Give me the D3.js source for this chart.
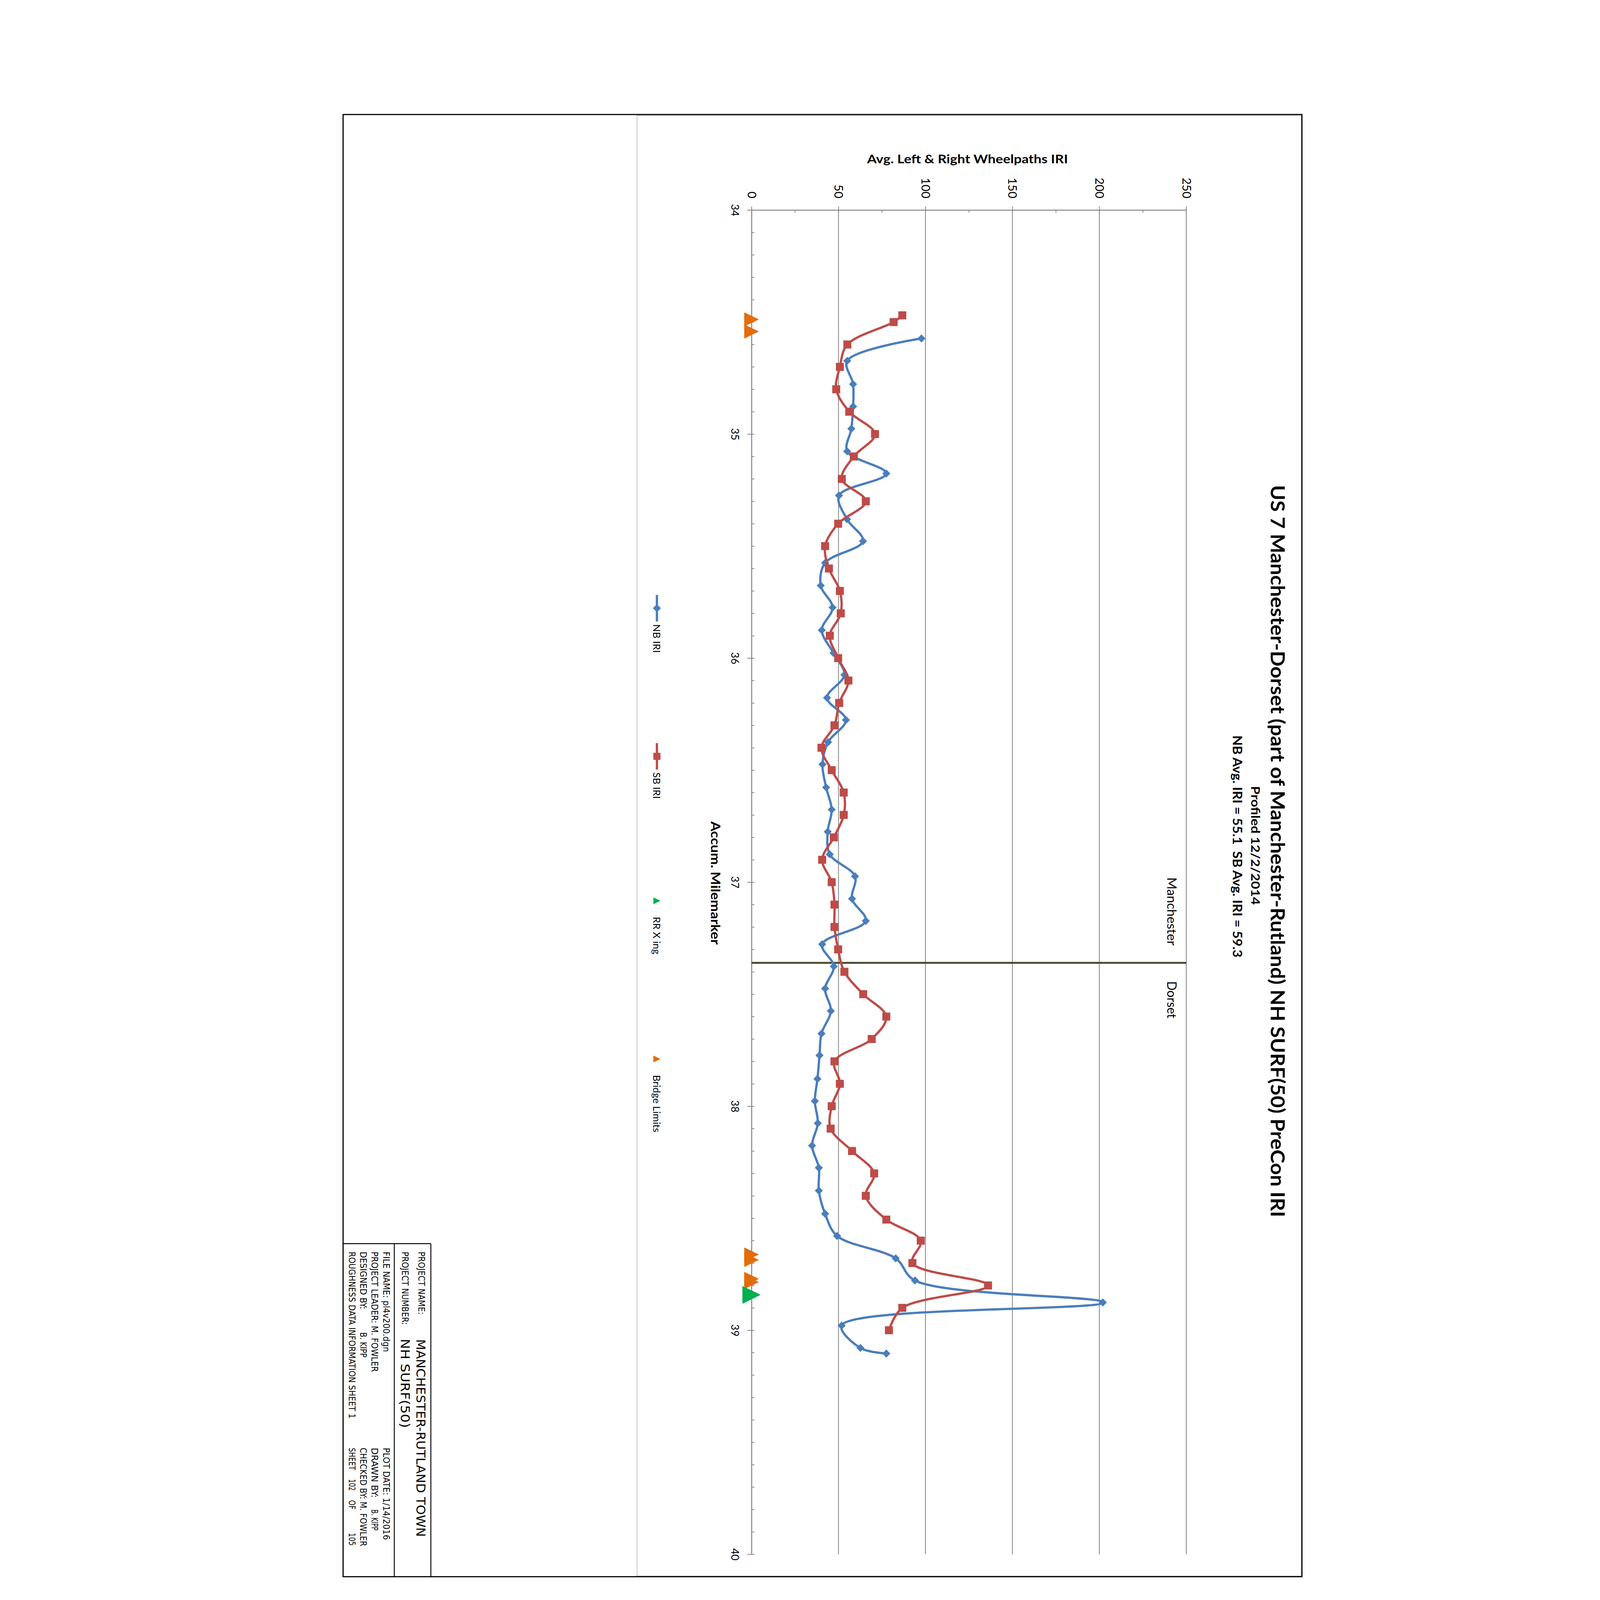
<!DOCTYPE html>
<html>
<head>
<meta charset="utf-8">
<script src="https://cdn.jsdelivr.net/npm/d3@7"></script>
<style>
  html, body { margin: 0; padding: 0; background: #fff; overflow: hidden; }
  #chart { width: 100vw; height: 100vh; }
  svg { display: block; width: 100%; height: 100%; }
</style>
</head>
<body>
<div id="chart"></div>
<script>
// NB / SB average wheelpath IRI (milepost, IRI)
const nbMile = [34.573, 34.673, 34.777, 34.877, 34.976, 35.077, 35.176, 35.274, 35.38, 35.478,
  35.575, 35.676, 35.774, 35.875, 35.977, 36.075, 36.177, 36.276, 36.375, 36.474,
  36.577, 36.676, 36.775, 36.876, 36.974, 37.074, 37.173, 37.277, 37.376, 37.475,
  37.575, 37.676, 37.773, 37.878, 37.977, 38.076, 38.176, 38.275, 38.377, 38.48,
  38.579, 38.679, 38.778, 38.876, 38.979, 39.079, 39.104];
const nbIri = [97.7, 55.0, 58.4, 58.4, 57.4, 55.0, 77.5, 50.3, 54.9, 64.1,
  42.3, 39.8, 46.6, 40.4, 47.1, 53.4, 43.4, 54.3, 44.0, 40.8,
  42.9, 46.1, 43.8, 45.0, 59.5, 57.8, 65.7, 40.6, 47.3, 42.3,
  45.6, 40.2, 39.1, 37.9, 36.4, 38.1, 34.8, 38.7, 38.7, 42.3,
  49.2, 82.9, 94.0, 202.0, 51.8, 62.6, 77.5];

const sbMile = [34.47, 34.50, 34.6, 34.7, 34.8, 34.9, 35.0, 35.1, 35.2, 35.3,
  35.4, 35.5, 35.6, 35.7, 35.8, 35.9, 36.0, 36.1, 36.2, 36.3,
  36.4, 36.5, 36.6, 36.7, 36.8, 36.9, 37.0, 37.1, 37.2, 37.3,
  37.4, 37.5, 37.6, 37.7, 37.8, 37.9, 38.0, 38.1, 38.2, 38.3,
  38.4, 38.506, 38.6, 38.7, 38.8, 38.9, 39.0];
const sbIri = [86.7, 81.7, 55.1, 50.8, 48.7, 56.2, 71.0, 58.8, 51.9, 65.7,
  49.8, 42.3, 44.5, 50.8, 51.3, 45.0, 49.8, 55.7, 50.4, 47.7,
  40.2, 46.1, 53.0, 53.0, 47.3, 40.6, 46.1, 47.7, 47.7, 49.8,
  53.4, 64.2, 77.5, 69.1, 47.7, 50.8, 46.1, 45.5, 57.8, 70.5,
  65.7, 77.5, 97.3, 92.5, 136.0, 86.7, 79.0];

const bridgeMile = [34.488, 34.542, 38.662, 38.686, 38.771, 38.785];
const rrMile = [38.842];

const iriTicks = [0, 50, 100, 150, 200, 250];
const mileTicks = [34, 35, 36, 37, 38, 39, 40];
const townLine = 37.36;
const townNames = ['Manchester', 'Dorset'];
const legendNames = ['NB IRI', 'SB IRI', 'RR X ing', 'Bridge Limits'];

const BLUE = '#4a7ebb', RED = '#be4b48', ORANGE = '#e46c0a', GREEN = '#00b050';
const GRAY = '#868686';
const FONT = "Lato, 'Open Sans', sans-serif";
const TB_FONT = "'DejaVu Sans', sans-serif";

const W = 4600, H = 7000;
const svg = d3.select('#chart').append('svg')
  .attr('viewBox', `0 0 ${W} ${H}`)
  .attr('preserveAspectRatio', 'xMidYMid meet');
svg.append('rect').attr('width', W).attr('height', H).attr('fill', '#fff');

const x = d3.scaleLinear().domain([0, 250]).range([2088, 3990]);
const y = d3.scaleLinear().domain([34, 40]).range([919, 6800]);

// text running top-to-bottom (the sheet is turned on its side)
function vtext(parent, str, bx, yy, size, opts = {}) {
  const t = parent.append('text')
    .attr('transform', `translate(${bx},${yy}) rotate(90)`)
    .attr('text-anchor', opts.anchor || 'start')
    .style('font-family', opts.family || FONT)
    .style('font-size', size + 'px')
    .style('font-weight', opts.bold ? 700 : 400)
    .attr('fill', '#000')
    .text(str);
  if (opts.stretch) t.style('font-stretch', opts.stretch);
  if (opts.len) t.attr('textLength', opts.len).attr('lengthAdjust', 'spacingAndGlyphs');
  return t;
}

// sheet frame
svg.append('rect').attr('x', 1587).attr('y', 505)
  .attr('width', 4493 - 1587).attr('height', 6895 - 505)
  .attr('fill', 'none').attr('stroke', '#a0a0a0').attr('stroke-width', 2);
svg.append('rect').attr('x', 301).attr('y', 501)
  .attr('width', 4496 - 301).attr('height', 6898 - 501)
  .attr('fill', 'none').attr('stroke', '#000').attr('stroke-width', 5);

// titles
const titles = svg.append('g');
vtext(titles, 'US 7 Manchester-Dorset (part of Manchester-Rutland) NH SURF(50) PreCon IRI',
  4360, 2122, 84, { bold: true, len: 3203 });
vtext(titles, 'Profiled 12/2/2014', 4274, 3439, 52, { bold: true, len: 520 });
vtext(titles, 'NB Avg. IRI = 55.1  SB Avg. IRI = 59.3', 4194, 3217, 54, { bold: true, len: 972 })
  .attr('xml:space', 'preserve');

titles.append('text')
  .attr('x', 3033).attr('y', 714)
  .attr('text-anchor', 'middle')
  .style('font-family', FONT).style('font-size', '53px').style('font-weight', 700)
  .attr('textLength', 879).attr('lengthAdjust', 'spacingAndGlyphs')
  .text('Avg. Left & Right Wheelpaths IRI');

vtext(titles, 'Accum. Milemarker', 1910, 3863, 54, { bold: true, anchor: 'middle', len: 539 });

// gridlines
svg.append('g').selectAll('line').data(iriTicks.slice(1)).join('line')
  .attr('x1', d => x(d)).attr('x2', d => x(d))
  .attr('y1', y(34)).attr('y2', y(40))
  .attr('stroke', GRAY).attr('stroke-width', 3.5);

// IRI axis (top)
const topAxis = svg.append('g').attr('transform', `translate(0,${y(34)})`)
  .call(d3.axisTop(x).tickValues(iriTicks).tickSize(15).tickSizeOuter(0));
topAxis.select('.domain').attr('stroke', GRAY).attr('stroke-width', 4.5);
topAxis.selectAll('.tick line').attr('stroke', GRAY).attr('stroke-width', 3.5);
topAxis.selectAll('.tick text')
  .attr('x', 0).attr('y', 0).attr('dy', '0.35em')
  .attr('transform', `translate(0,${868 - y(34)}) rotate(90)`)
  .attr('text-anchor', 'end').attr('fill', '#000')
  .style('font-family', FONT).style('font-size', '52px');

svg.append('g').attr('transform', `translate(0,${y(34)})`)
  .call(d3.axisBottom(x).tickValues(d3.range(0, 251, 25)).tickSize(11).tickFormat(''))
  .call(g => g.select('.domain').remove())
  .selectAll('line').attr('stroke', GRAY).attr('stroke-width', 3.5);

// milepost axis (left)
const leftAxis = svg.append('g').attr('transform', `translate(${x(0)},0)`)
  .call(d3.axisLeft(y).tickValues(mileTicks).tickSize(19).tickSizeOuter(0).tickFormat(d3.format('d')));
leftAxis.select('.domain').attr('stroke', GRAY).attr('stroke-width', 4.5);
leftAxis.selectAll('.tick line').attr('stroke', GRAY).attr('stroke-width', 3.5);
leftAxis.selectAll('.tick text')
  .attr('x', 0).attr('y', 0).attr('dy', 0)
  .attr('transform', `translate(${1999 - x(0)},0) rotate(90)`)
  .attr('text-anchor', 'middle').attr('fill', '#000')
  .style('font-family', FONT).style('font-size', '46px');

svg.append('g').attr('transform', `translate(${x(0)},0)`)
  .call(d3.axisRight(y).tickValues(d3.range(340, 401).map(d => d / 10)).tickSize(12).tickFormat(''))
  .call(g => g.select('.domain').remove())
  .selectAll('line').attr('stroke', GRAY).attr('stroke-width', 3.5);

// town line
svg.append('line')
  .attr('x1', x(0)).attr('x2', x(250))
  .attr('y1', y(townLine)).attr('y2', y(townLine))
  .attr('stroke', '#4a432b').attr('stroke-width', 8);
vtext(svg, townNames[0], 3907, y(townLine) - 76, 56, { anchor: 'end', len: 298 });
vtext(svg, townNames[1], 3907, y(townLine) + 80, 56, { len: 163 });

// series, smoothed like the spreadsheet lines
const line = d3.line()
  .x(d => x(d[1])).y(d => y(d[0]))
  .curve(d3.curveCatmullRom.alpha(0.5));
const nb = d3.zip(nbMile, nbIri);
const sb = d3.zip(sbMile, sbIri);

const diamond = d3.symbol().type(d3.symbolSquare).size(25 * 25);
const square = d3.symbol().type(d3.symbolSquare).size(35 * 35);
const tri = (w, h) => `M${w / 2},0L${-w / 2},${-h / 2}L${-w / 2},${h / 2}Z`;

const plot = svg.append('g');
plot.append('path').datum(nb).attr('d', line)
  .attr('fill', 'none').attr('stroke', BLUE).attr('stroke-width', 10)
  .attr('stroke-linejoin', 'round').attr('stroke-linecap', 'round');
plot.append('g').selectAll('path').data(nb).join('path')
  .attr('d', diamond)
  .attr('transform', d => `translate(${x(d[1])},${y(d[0])}) rotate(45)`)
  .attr('fill', BLUE);

plot.append('path').datum(sb).attr('d', line)
  .attr('fill', 'none').attr('stroke', RED).attr('stroke-width', 10)
  .attr('stroke-linejoin', 'round').attr('stroke-linecap', 'round');
plot.append('g').selectAll('path').data(sb).join('path')
  .attr('d', square)
  .attr('transform', d => `translate(${x(d[1])},${y(d[0])})`)
  .attr('fill', RED);

plot.append('g').selectAll('path').data(bridgeMile).join('path')
  .attr('d', tri(64, 62))
  .attr('transform', d => `translate(${x(0)},${y(d)})`)
  .attr('fill', ORANGE);
plot.append('g').selectAll('path').data(rrMile).join('path')
  .attr('d', tri(80, 78))
  .attr('transform', d => `translate(${x(0)},${y(d)})`)
  .attr('fill', GREEN);

// legend
const lg = svg.append('g');
const lgX = 1674;
const lgY = [2661, 3309, 3941, 4633];
lg.append('line').attr('x1', lgX).attr('x2', lgX).attr('y1', lgY[0] - 58).attr('y2', lgY[0] + 58)
  .attr('stroke', BLUE).attr('stroke-width', 10);
lg.append('path').attr('d', diamond).attr('transform', `translate(${lgX},${lgY[0]}) rotate(45)`).attr('fill', BLUE);
lg.append('line').attr('x1', lgX).attr('x2', lgX).attr('y1', lgY[1] - 58).attr('y2', lgY[1] + 58)
  .attr('stroke', RED).attr('stroke-width', 10);
lg.append('path').attr('d', d3.symbol().type(d3.symbolSquare).size(31 * 31))
  .attr('transform', `translate(${lgX},${lgY[1]})`).attr('fill', RED);
lg.append('path').attr('d', tri(31, 30)).attr('transform', `translate(${lgX},${lgY[2]})`).attr('fill', GREEN);
lg.append('path').attr('d', tri(31, 30)).attr('transform', `translate(${lgX},${lgY[3]})`).attr('fill', ORANGE);
legendNames.forEach((name, i) => vtext(lg, name, 1658, lgY[i] + 70, 44));

// title block
const tb = svg.append('g');
[[525, 5441, 525, 6898], [685, 5441, 685, 6898], [300, 5441, 685, 5441]].forEach(s => {
  tb.append('line').attr('x1', s[0]).attr('y1', s[1]).attr('x2', s[2]).attr('y2', s[3])
    .attr('stroke', '#000').attr('stroke-width', 4);
});
const tbText = [
  ['PROJECT NAME:', 630, 5476, 38, 275],
  ['MANCHESTER-RUTLAND  TOWN', 622, 5859, 56, 865],
  ['PROJECT NUMBER:', 559, 5476, 38, 320],
  ['NH SURF(50)', 553, 5857, 54, 390],
  ['FILE NAME: pl4v200.dgn', 476, 5476, 38, 439],
  ['PLOT DATE: 1/14/2016', 476, 6334, 38, 403],
  ['PROJECT LEADER: M. FOWLER', 425, 5476, 38, 526],
  ['DRAWN BY:', 425, 6334, 38, 219],
  ['B. KIPP', 425, 6604, 38, 92],
  ['DESIGNED BY:', 375, 5476, 38, 252],
  ['B. KIPP', 375, 5829, 38, 110],
  ['CHECKED BY: M. FOWLER', 375, 6334, 38, 431],
  ['ROUGHNESS DATA INFORMATION SHEET 1', 326, 5476, 38, 730],
  ['SHEET', 326, 6334, 38, 97],
  ['102', 326, 6471, 38, 51],
  ['OF', 326, 6563, 38, 41],
  ['105', 326, 6706, 38, 56]
];
tbText.forEach(d => vtext(tb, d[0], d[1], d[2], d[3], { family: TB_FONT, stretch: 'condensed', len: d[4] }));
</script>
</body>
</html>
